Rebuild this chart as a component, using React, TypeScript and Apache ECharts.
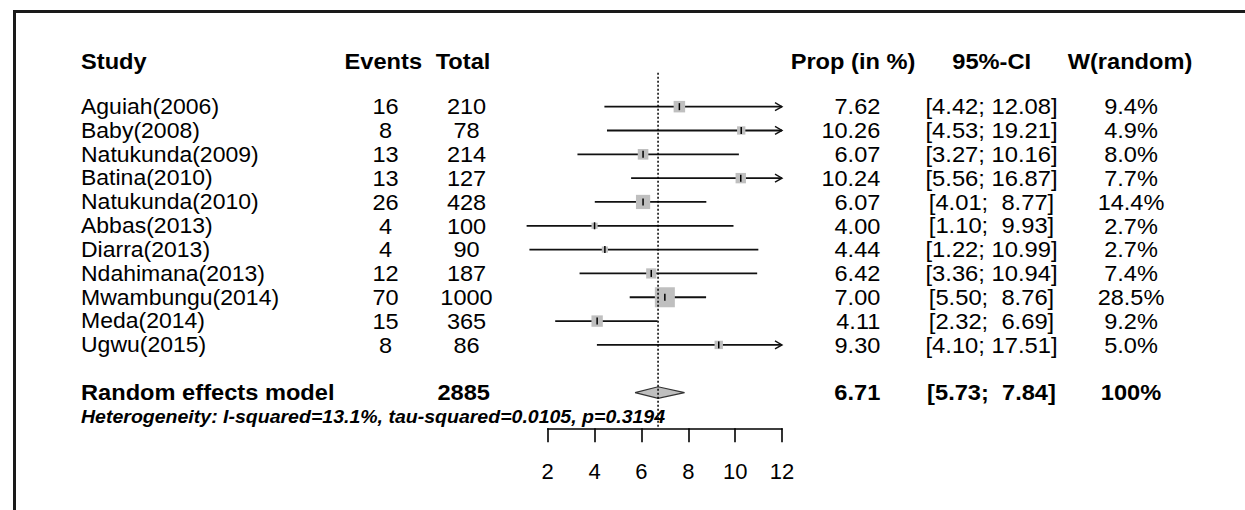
import React, { useEffect, useRef } from "react";
import * as echarts from "echarts";

// ---------- data ----------
const studies = [
  "Aguiah(2006)",
  "Baby(2008)",
  "Natukunda(2009)",
  "Batina(2010)",
  "Natukunda(2010)",
  "Abbas(2013)",
  "Diarra(2013)",
  "Ndahimana(2013)",
  "Mwambungu(2014)",
  "Meda(2014)",
  "Ugwu(2015)",
];
const events = [16, 8, 13, 13, 26, 4, 4, 12, 70, 15, 8];
const totals = [210, 78, 214, 127, 428, 100, 90, 187, 1000, 365, 86];
const props = [7.62, 10.26, 6.07, 10.24, 6.07, 4.0, 4.44, 6.42, 7.0, 4.11, 9.3];
const ciLow = [4.42, 4.53, 3.27, 5.56, 4.01, 1.1, 1.22, 3.36, 5.5, 2.32, 4.1];
const ciHigh = [12.08, 19.21, 10.16, 16.87, 8.77, 9.93, 10.99, 10.94, 8.76, 6.69, 17.51];
const weights = [9.4, 4.9, 8.0, 7.7, 14.4, 2.7, 2.7, 7.4, 28.5, 9.2, 5.0];

const pooledLabel = "Random effects model";
const pooledTotal = 2885;
const pooledEst = 6.71;
const pooledLow = 5.73;
const pooledHigh = 7.84;
const pooledWeight = "100%";
const heterogeneityText =
  "Heterogeneity: I-squared=13.1%, tau-squared=0.0105, p=0.3194";

const headers = ["Study", "Events", "Total", "Prop (in %)", "95%-CI", "W(random)"];
const xTickValues = [2, 4, 6, 8, 10, 12];

// ---------- layout ----------
const X_MIN = 2;
const X_MAX = 12;
const HEADER_ROW = -1.92;
const REFLINE_TOP_ROW = -1.42;
const POOLED_ROW = 12;
const HET_ROW = 13;
const Y_MIN = -2;
const Y_MAX = 13.5;

const FONT = '"Liberation Sans", Arial, Helvetica, sans-serif';
const colStretch = [1.045, 1.07, 1.07, 1.07, 1.08, 1.07];

const colX = [81, 385.5, 466.5, 880.3, 991.5, 1131];
const colAlign = ["left", "center", "center", "right", "center", "center"];
const headerX = [81, 383.3, 463, 853, 991.7, 1130];
const headerAlign = ["left", "center", "center", "center", "center", "center"];

const fmtCI = (lo: number, hi: number) =>
  "[" + lo.toFixed(2) + "; " + hi.toFixed(2).padStart(5, " ") + "]";

type Cell = {
  row: number;
  x: number;
  align: string;
  text: string;
  stretch: number;
  bold?: boolean;
  italic?: boolean;
  size?: number;
};

const cells: Cell[] = [];
headers.forEach((h, c) =>
  cells.push({ row: HEADER_ROW, x: headerX[c], align: headerAlign[c], text: h, bold: true, stretch: 1.075 })
);
studies.forEach((s, i) => {
  const vals = [
    s,
    String(events[i]),
    String(totals[i]),
    props[i].toFixed(2),
    fmtCI(ciLow[i], ciHigh[i]),
    weights[i].toFixed(1) + "%",
  ];
  vals.forEach((v, c) =>
    cells.push({ row: i, x: colX[c], align: colAlign[c], text: v, stretch: colStretch[c] })
  );
});
[
  pooledLabel,
  "",
  String(pooledTotal),
  pooledEst.toFixed(2),
  fmtCI(pooledLow, pooledHigh),
  pooledWeight,
].forEach((v, c) => {
  if (v)
    cells.push({
      row: POOLED_ROW,
      x: c === 2 ? 463.7 : colX[c],
      align: colAlign[c],
      text: v,
      bold: true,
      stretch: 1.075,
    });
});
cells.push({
  row: HET_ROW,
  x: 81,
  align: "left",
  text: heterogeneityText,
  bold: true,
  italic: true,
  size: 18,
  stretch: 1.085,
});

export default function App() {
  const ref = useRef<HTMLDivElement>(null);

  useEffect(() => {
    if (!ref.current) return;
    const chart = echarts.init(ref.current, undefined, { renderer: "svg" });

    const option: any = {
      animation: false,
      backgroundColor: "#ffffff",
      grid: { left: 547.7, top: 59.0, width: 234.3, height: 369.3, containLabel: false },
      xAxis: {
        type: "value",
        min: X_MIN,
        max: X_MAX,
        interval: 2,
        axisLine: { show: true, onZero: false, lineStyle: { color: "#000", width: 1.6 } },
        axisTick: { show: true, length: 14, lineStyle: { color: "#000", width: 1.6 } },
        axisLabel: {
          show: true,
          fontSize: 22,
          color: "#000",
          margin: 32,
          fontFamily: FONT,
          formatter: (v: number) => (xTickValues.includes(v) ? String(v) : ""),
        },
        splitLine: { show: false },
      },
      yAxis: {
        type: "value",
        inverse: true,
        min: Y_MIN,
        max: Y_MAX,
        show: false,
        splitLine: { show: false },
      },
      graphic: [
        {
          type: "line",
          shape: { x1: 13, y1: 11.5, x2: 1245, y2: 11.5 },
          style: { stroke: "#1a1a1a", lineWidth: 3 },
        },
        {
          type: "line",
          shape: { x1: 14.5, y1: 10, x2: 14.5, y2: 510 },
          style: { stroke: "#1a1a1a", lineWidth: 3 },
        },
      ],
      series: [
        {
          type: "custom",
          name: "studies",
          clip: false,
          z: 2,
          data: studies.map((_, i) => [ciLow[i], ciHigh[i], props[i], weights[i], i]),
          renderItem: (params: any, api: any) => {
            const lo = api.value(0);
            const hi = api.value(1);
            const est = api.value(2);
            const w = api.value(3);
            const row = api.value(4);
            const pEst = api.coord([est, row]);
            const y = pEst[1];
            const xLo = api.coord([lo, row])[0];
            const xHi = api.coord([Math.min(hi, X_MAX), row])[0];
            const side = 3.75 * Math.sqrt(w);
            const children: any[] = [
              {
                type: "line",
                shape: { x1: xLo, y1: y, x2: xHi, y2: y },
                style: { stroke: "#111", lineWidth: 1.8 },
              },
            ];
            if (hi > X_MAX) {
              children.push({
                type: "polyline",
                shape: { points: [[xHi - 7, y - 4], [xHi, y], [xHi - 7, y + 4]] },
                style: { stroke: "#111", lineWidth: 1.4, fill: "none" },
              });
            }
            children.push({
              type: "rect",
              shape: { x: pEst[0] - side / 2, y: y - side / 2, width: side, height: side },
              style: { fill: "#bfbfbf" },
            });
            children.push({
              type: "line",
              shape: { x1: pEst[0], y1: y - 3.5, x2: pEst[0], y2: y + 3.5 },
              style: { stroke: "#000", lineWidth: 1.5 },
            });
            return { type: "group", children };
          },
        },
        {
          type: "custom",
          name: "pooled",
          clip: false,
          z: 3,
          data: [[pooledLow, pooledHigh, pooledEst, POOLED_ROW]],
          renderItem: (params: any, api: any) => {
            const row = api.value(3);
            const l = api.coord([api.value(0), row]);
            const r = api.coord([api.value(1), row]);
            const m = api.coord([api.value(2), row]);
            const h = 5.8;
            return {
              type: "polygon",
              shape: { points: [[l[0], l[1]], [m[0], m[1] - h], [r[0], r[1]], [m[0], m[1] + h]] },
              style: { fill: "#bfbfbf", stroke: "#333", lineWidth: 1.2 },
            };
          },
        },
        {
          type: "custom",
          name: "reference",
          clip: false,
          z: 5,
          data: [[pooledEst, REFLINE_TOP_ROW, Y_MAX]],
          renderItem: (params: any, api: any) => {
            const a = api.coord([api.value(0), api.value(1)]);
            const b = api.coord([api.value(0), api.value(2)]);
            return {
              type: "line",
              shape: { x1: a[0], y1: a[1], x2: b[0], y2: b[1] },
              style: { stroke: "#000", lineWidth: 1.5, lineDash: [2, 2] },
            };
          },
        },
        {
          type: "custom",
          name: "table",
          clip: false,
          z: 4,
          data: cells.map((c) => [X_MIN, c.row]),
          renderItem: (params: any, api: any) => {
            const c = cells[params.dataIndex];
            const y = api.coord([X_MIN, api.value(1)])[1];
            const size = c.size || 22;
            const font =
              (c.italic ? "italic " : "") + (c.bold ? "bold " : "") + size + "px " + FONT;
            return {
              type: "text",
              x: c.x,
              y: y,
              scaleX: c.stretch,
              style: {
                text: c.text,
                font: font,
                fill: "#000",
                align: c.align,
                textAlign: c.align,
                verticalAlign: "middle",
                textVerticalAlign: "middle",
              },
            };
          },
        },
      ],
    };

    chart.setOption(option);
    return () => chart.dispose();
  }, []);

  return (
    <div
      ref={ref}
      style={{ position: "absolute", left: 0, top: 0, width: 1245, height: 510 }}
    />
  );
}
